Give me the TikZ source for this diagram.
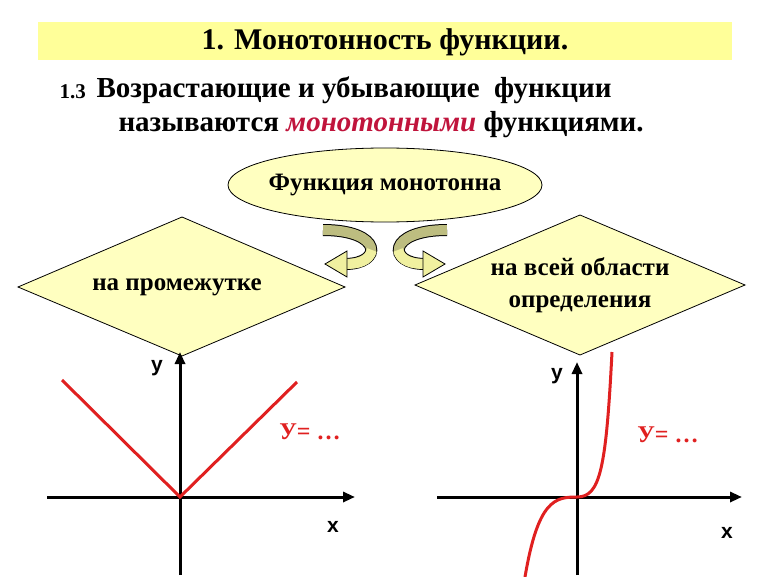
\documentclass[tikz,border=0pt]{standalone}
\usepackage{fontspec}
\setmainfont{Liberation Serif}
\newfontfamily\axfont{Liberation Sans}
\usetikzlibrary{arrows.meta,shapes.geometric}
\definecolor{ly}{HTML}{FFFFC0}
\definecolor{band}{HTML}{FFFF99}
\definecolor{arrtop}{HTML}{BDBD80}
\definecolor{arrlo}{HTML}{F0F0A0}
\definecolor{myred}{HTML}{E02020}
\definecolor{crim}{HTML}{C0143C}
\begin{document}
\begin{tikzpicture}[x=1pt,y=-1pt,
  txt/.style={font=\fontsize{29}{32}\selectfont\bfseries},
  box/.style={draw=black,fill=ly,line width=0.8pt},
  axis/.style={line width=3pt,-{Triangle[length=12pt,width=10pt]}},
  graph/.style={myred,line width=3pt},
  axl/.style={font=\axfont\fontsize{21}{24}\selectfont\bfseries},
  dtxt/.style={font=\fontsize{25}{29}\selectfont\bfseries},
  ylab/.style={myred,font=\fontsize{24}{26}\selectfont\bfseries}]
\useasboundingbox (0,0) rectangle (770,577);
\fill[band] (38,22) rectangle (732,60);
\node[font=\fontsize{30}{32}\selectfont\bfseries] (title) at (385,42) {1. Монотонность функции.};
\node[font=\fontsize{21}{24}\selectfont\bfseries,anchor=west] (n13) at (56,92) {1.3};
\node[txt,anchor=west] (l1) at (93,90) {Возрастающие и убывающие\ \ функции};
\node[txt,anchor=west] (l2) at (115,125) {называются \textcolor{crim}{\itshape монотонными} функциями.};
\draw[box] (385,185) ellipse [x radius=157pt, y radius=37pt];
\node[dtxt] (ell) at (385,185) {Функция монотонна};
\draw[box] (18,287) -- (182,217) -- (345,287) -- (182,356) -- cycle;
\node[dtxt] (dl) at (177,287) {на промежутке};
\draw[box] (415,285) -- (580,215) -- (745,285) -- (580,355) -- cycle;
\node[dtxt,align=center] (dr) at (580,285) {на всей области\\[3pt]определения};
% curved arrows
\foreach \s in {1,-1}{
 \begin{scope}[xshift=385pt,xscale=\s]
  \draw[black,line width=12pt] (-62,230) .. controls (-2,230) and (-2,264) .. (-40,264);
  \draw[arrtop,line width=10pt] (-62,230) .. controls (-2,230) and (-2,264) .. (-40,264);
  \draw[arrlo,line width=10pt] (-13,250) .. controls (-16,262) and (-28,264) .. (-40,264);
  \fill[arrlo,draw=black,line width=0.8pt] (-38,251) -- (-38,277) -- (-60,264) -- cycle;
 \end{scope}}
% left graph
\coordinate (o1) at (180,497);
\draw[axis] (180,575) -- (180,352);
\draw[axis] (47,497) -- (355,497);
\draw[graph] (62,380) -- (o1) -- (297,382);
\node[axl] at (157,368) {y};
\node[axl] at (333,527) {x};
\node[ylab] at (310,432) {У= …};
% right graph
\draw[axis] (577,575) -- (577,362);
\draw[axis] (437,497) -- (742,497);
\draw[graph] (525,577) .. controls (538,500) and (555,497) .. (577,497) .. controls (600,497) and (606,470) .. (612,352);
\node[axl] at (557,376) {y};
\node[axl] at (727,533) {x};
\node[ylab] at (668,435) {У= …};
\end{tikzpicture}
\end{document}
